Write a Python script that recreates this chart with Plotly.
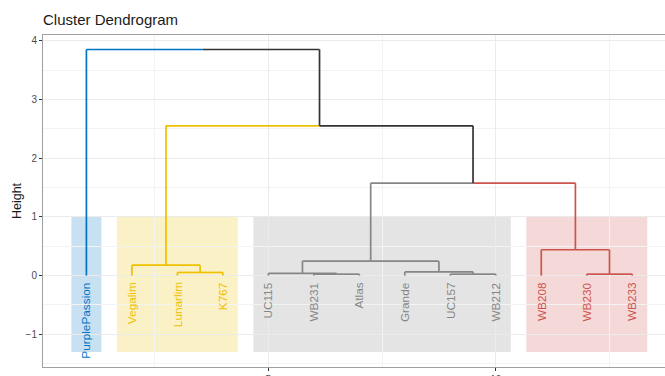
import plotly.graph_objects as go

# Leaves in dendrogram order
leaf_labels = ["PurplePassion", "Vegalim", "Lunarlim", "K767", "UC115", "WB231",
               "Atlas", "Grande", "UC157", "WB212", "WB208", "WB230", "WB233"]
# Cluster membership of each leaf (k = 4)
leaf_cluster = [0, 1, 1, 1, 2, 2, 2, 2, 2, 2, 3, 3, 3]

# hclust-style merge table: negative = leaf (1-based), positive = earlier merge step
merge_left = [-6, -9, -12, -5, -3, -8, -2, 4, -11, 8, 7, -1]
merge_right = [-7, -10, -13, 1, -4, 2, 5, 6, 3, 9, 10, 11]
merge_height = [0.024, 0.024, 0.024, 0.036, 0.053, 0.063, 0.177, 0.245, 0.44,
                1.575, 2.55, 3.85]

cluster_colors = ["#0073C2", "#EFC000", "#868686", "#CD534C"]
upper_color = "#333333"

# x positions / heights / cluster sets for leaves and internal nodes
def node_info(ref, nodes):
    if ref < 0:
        i = -ref - 1
        return (i + 1, 0.0, {leaf_cluster[i]}, [i])
    return nodes[ref - 1]

nodes = []
segments = []  # (x0, y0, x1, y1, color)
for l, r, h in zip(merge_left, merge_right, merge_height):
    xl, hl, cl, ll = node_info(l, nodes)
    xr, hr, cr, lr = node_info(r, nodes)
    xm = (xl + xr) / 2
    for x, hc, cs in ((xl, hl, cl), (xr, hr, cr)):
        col = cluster_colors[next(iter(cs))] if len(cs) == 1 else upper_color
        segments.append((x, hc, x, h, col))
        segments.append((x, h, xm, h, col))
    nodes.append((xm, h, cl | cr, ll + lr))

fig = go.Figure()

# Branches, grouped by colour so each colour is one trace
for col in cluster_colors + [upper_color]:
    xs, ys = [], []
    for x0, y0, x1, y1, c in segments:
        if c == col:
            xs += [x0, x1, None]
            ys += [y0, y1, None]
    fig.add_trace(go.Scatter(x=xs, y=ys, mode="lines",
                             line=dict(color=col, width=1.7),
                             hoverinfo="skip", showlegend=False))

# Cluster rectangles
rect_pad = 0.33
rect_top, rect_bottom = 1.0, -1.3
for k, col in enumerate(cluster_colors):
    members = [i + 1 for i, c in enumerate(leaf_cluster) if c == k]
    fig.add_shape(type="rect", xref="x", yref="y",
                  x0=min(members) - rect_pad, x1=max(members) + rect_pad,
                  y0=rect_bottom, y1=rect_top,
                  fillcolor=col, opacity=0.22, line=dict(width=0), layer="below")

# Leaf labels, rotated
for i, (lab, c) in enumerate(zip(leaf_labels, leaf_cluster)):
    fig.add_annotation(x=i + 1, y=-0.08, xref="x", yref="y", text=lab,
                       textangle=-90, showarrow=False, xanchor="center", yanchor="top",
                       font=dict(family="Liberation Sans, Arial", size=11.8,
                                 color=cluster_colors[c]))

grid = "#ebebeb"
fig.update_layout(
    width=665, height=376,
    margin=dict(l=43, r=0, t=35, b=9),
    paper_bgcolor="white", plot_bgcolor="white",
    font=dict(family="Liberation Sans, Arial", color="#4d4d4d"),
    title=dict(text="Cluster Dendrogram", x=0, xref="paper", xanchor="left",
               y=1 - 20 / 376, yref="container", yanchor="middle",
               font=dict(size=15, color="#1a1a1a")),
    xaxis=dict(range=[0.046, 13.72], tickmode="array", tickvals=[5, 10],
               ticktext=["5", "10"], ticks="outside", ticklen=3, tickcolor="#333",
               tickfont=dict(size=10, color="#4d4d4d"), automargin=False,
               showgrid=True, gridcolor=grid, gridwidth=1,
               minor=dict(tickvals=[2.5, 7.5, 12.5], showgrid=True,
                          gridcolor="#f3f3f3", gridwidth=0.6, ticks=""),
               showline=True, mirror=True, linecolor="#a0a0a0", linewidth=1,
               zeroline=False, fixedrange=True),
    yaxis=dict(range=[-1.557, 4.097], tickvals=[-1, 0, 1, 2, 3, 4],
               ticks="outside", ticklen=3, tickcolor="#333",
               tickfont=dict(size=10, color="#4d4d4d"), automargin=False,
               showgrid=True, gridcolor=grid, gridwidth=1,
               minor=dict(tickvals=[-1.5, -0.5, 0.5, 1.5, 2.5, 3.5], showgrid=True,
                          gridcolor="#f3f3f3", gridwidth=0.6, ticks=""),
               showline=True, linecolor="#a0a0a0", linewidth=1,
               zeroline=False, fixedrange=True,
               title=dict(text="Height", standoff=1,
                          font=dict(size=12.5, color="#1a1a1a"))),
)

fig.write_html("out.html")
